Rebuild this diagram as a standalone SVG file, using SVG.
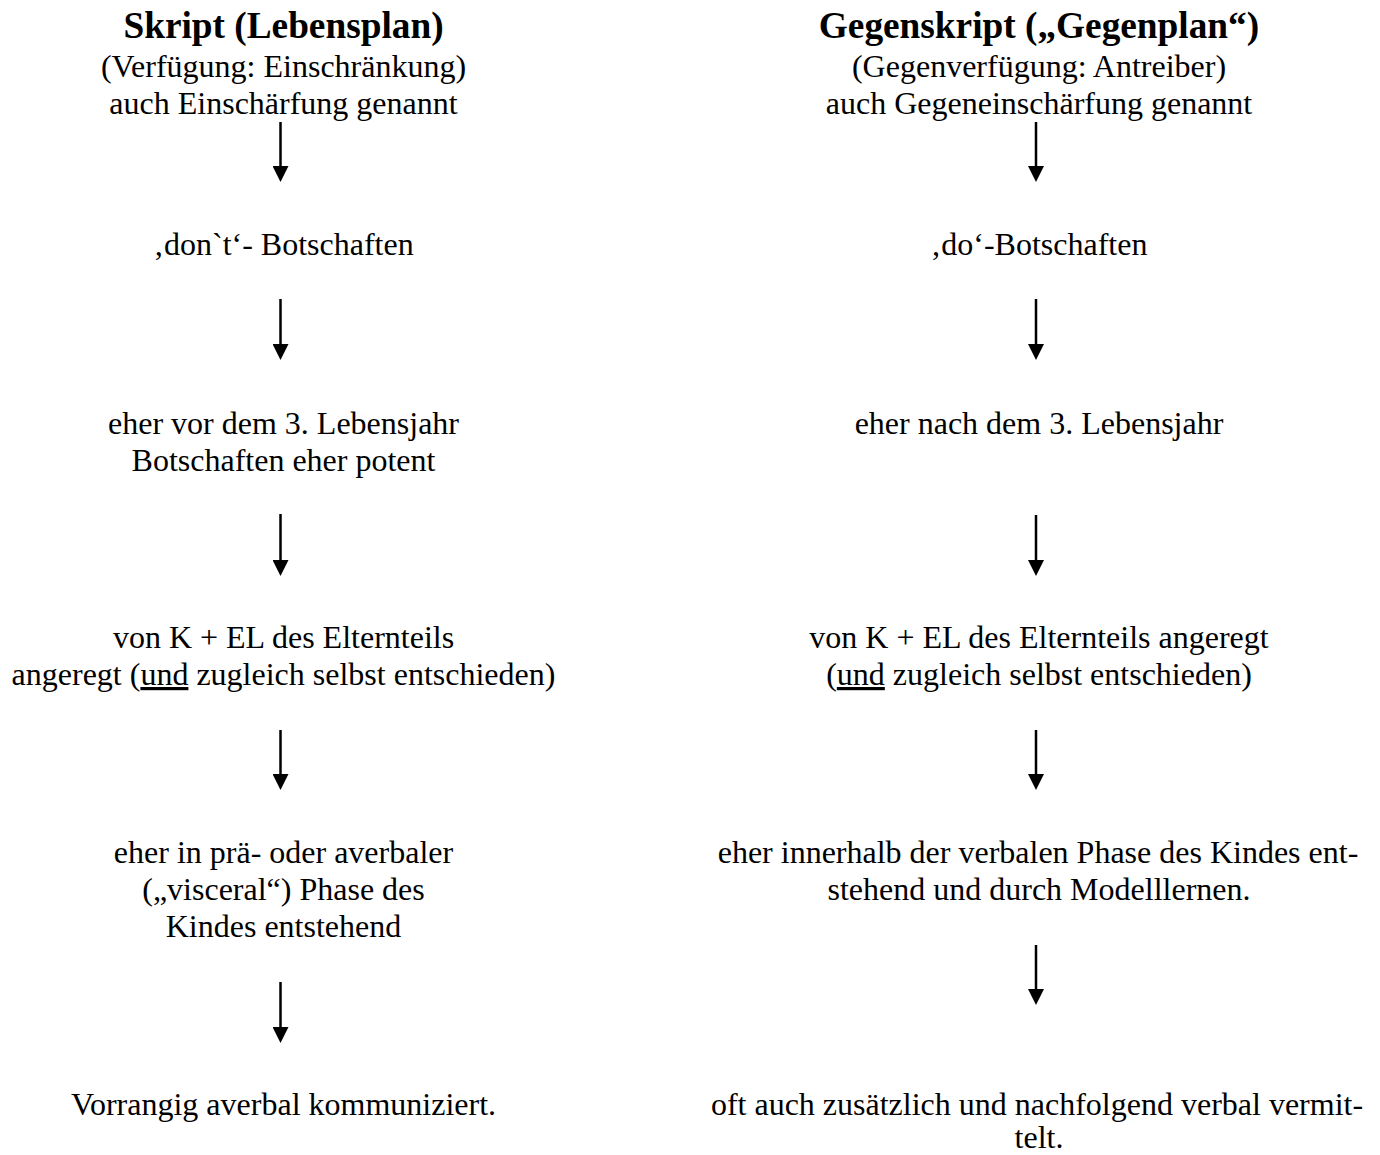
<svg xmlns="http://www.w3.org/2000/svg" width="1380" height="1155" viewBox="0 0 1380 1155">
<defs>
<style>
text{font-family:"Liberation Serif","Times New Roman",serif;font-size:32px;fill:#000;text-anchor:middle}
.title{font-size:37.3px;font-weight:bold}
.conn line{stroke:#000;stroke-width:2.5}
</style>
<marker id="ah" markerUnits="userSpaceOnUse" markerWidth="16" markerHeight="16" refX="0" refY="8" orient="auto" viewBox="0 0 16 16">
<path d="M0,0 L16,8 L0,16 z" fill="#000"/>
</marker>
</defs>
<rect width="1380" height="1155" fill="#fff"/>
<g id="left-title">
<text class="title" x="283.5" y="38">Skript (Lebensplan)</text>
<text x="283.5" y="77">(Verfügung: Einschränkung)</text>
<text x="283.5" y="114">auch Einschärfung genannt</text>
</g>
<g id="left-1"><text x="283.5" y="255">‚don`t‘- Botschaften</text></g>
<g id="left-2">
<text x="283.5" y="434">eher vor dem 3. Lebensjahr</text>
<text x="283.5" y="471">Botschaften eher potent</text>
</g>
<g id="left-3">
<text x="283.5" y="648">von K + EL des Elternteils</text>
<text x="283.5" y="685">angeregt (<tspan text-decoration="underline">und</tspan> zugleich selbst entschieden)</text>
</g>
<g id="left-4">
<text x="283.5" y="863">eher in prä- oder averbaler</text>
<text x="283.5" y="900">(„visceral“) Phase des</text>
<text x="283.5" y="937">Kindes entstehend</text>
</g>
<g id="left-5"><text x="283.5" y="1115">Vorrangig averbal kommuniziert.</text></g>
<g id="right-title">
<text class="title" x="1039" y="38">Gegenskript („Gegenplan“)</text>
<text x="1039" y="77">(Gegenverfügung: Antreiber)</text>
<text x="1039" y="114">auch Gegeneinschärfung genannt</text>
</g>
<g id="right-1"><text x="1039" y="255">‚do‘-Botschaften</text></g>
<g id="right-2"><text x="1039" y="434">eher nach dem 3. Lebensjahr</text></g>
<g id="right-3">
<text x="1039" y="648">von K + EL des Elternteils angeregt</text>
<text x="1039" y="685">(<tspan text-decoration="underline">und</tspan> zugleich selbst entschieden)</text>
</g>
<g id="right-4">
<text x="1038" y="863">eher innerhalb der verbalen Phase des Kindes ent-</text>
<text x="1039" y="900">stehend und durch Modelllernen.</text>
</g>
<g id="right-5">
<text x="1037" y="1115">oft auch zusätzlich und nachfolgend verbal vermit-</text>
<text x="1039" y="1148">telt.</text>
</g>
<g id="connectors" class="conn">
<line x1="280.5" y1="122" x2="280.5" y2="166" marker-end="url(#ah)"/>
<line x1="280.5" y1="299" x2="280.5" y2="344" marker-end="url(#ah)"/>
<line x1="280.5" y1="514" x2="280.5" y2="560" marker-end="url(#ah)"/>
<line x1="280.5" y1="730" x2="280.5" y2="774" marker-end="url(#ah)"/>
<line x1="280.5" y1="982" x2="280.5" y2="1027" marker-end="url(#ah)"/>
<line x1="1036" y1="122" x2="1036" y2="166" marker-end="url(#ah)"/>
<line x1="1036" y1="299" x2="1036" y2="344" marker-end="url(#ah)"/>
<line x1="1036" y1="515" x2="1036" y2="560" marker-end="url(#ah)"/>
<line x1="1036" y1="730" x2="1036" y2="774" marker-end="url(#ah)"/>
<line x1="1036" y1="945" x2="1036" y2="989" marker-end="url(#ah)"/>
</g>
</svg>
